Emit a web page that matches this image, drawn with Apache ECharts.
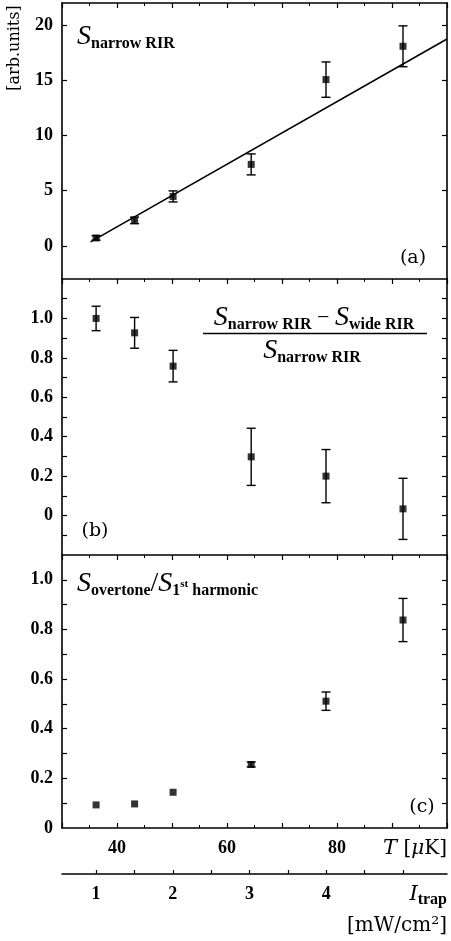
<!DOCTYPE html>
<html><head><meta charset="utf-8">
<script src="https://cdn.jsdelivr.net/npm/echarts@6/dist/echarts.min.js"></script>
<style>html,body{margin:0;padding:0;background:#fff}#c{width:451px;height:941px}</style>
</head><body><div id="c"></div>
<script>
// ---- data ----
const T = [36.2, 43.2, 50.2, 64.4, 78.0, 92.0];          // temperature [uK]
const I = [1, 1.5, 2, 3, 4, 5];                           // trap intensity [mW/cm2]
const aVal = [0.72, 2.31, 4.48, 7.38, 15.06, 18.08];
const aErr = [0.2, 0.3, 0.5, 0.95, 1.6, 1.85];
const fitT = [35.2, 100];
const fitA = [0.36, 18.74];
const bVal = [1.0, 0.927, 0.758, 0.298, 0.20, 0.034];
const bErr = [0.062, 0.078, 0.08, 0.145, 0.135, 0.155];
const cVal = [0.093, 0.097, 0.144, 0.256, 0.511, 0.838];
const cErr = [0, 0, 0, 0.01, 0.037, 0.087];
const aTicks = [0, 5, 10, 15, 20];
const bTicks = [-0.1, 0, 0.1, 0.2, 0.3, 0.4, 0.5, 0.6, 0.7, 0.8, 0.9, 1.0, 1.1];
const bLabels = [0, 0.2, 0.4, 0.6, 0.8, 1.0];
const cTicks = [0.1, 0.2, 0.3, 0.4, 0.5, 0.6, 0.7, 0.8, 0.9, 1.0];
const cLabels = [0, 0.2, 0.4, 0.6, 0.8, 1.0];
const tLabels = [40, 60, 80];
const iTicks = [1, 1.5, 2, 2.5, 3, 3.5, 4, 4.5, 5];
const iLabels = [1, 2, 3, 4];
// T <-> I mapping of the second axis (I = 1 at T=36.2, I = 5 at T=92.0)
const iMin = 0.556, iMax = 5.574;

const SERIF = 'Liberation Serif';
const DV = 'DejaVu Serif';
const K = '#000';
const chart = echarts.init(document.getElementById('c'), null, {renderer: 'canvas'});

const grids = [
  {left: 62, right: 4, top: 3, height: 276},
  {left: 62, right: 4, top: 279, height: 276},
  {left: 62, right: 4, top: 555, height: 273}
];

function topX(g) {
  return {type: 'value', gridIndex: g, position: 'top', min: 30, max: 100, interval: 10,
    axisLine: {show: true, onZero: false, lineStyle: {color: K, width: 1.6}},
    axisTick: {show: true, inside: true, length: 5, lineStyle: {color: K, width: 1.2}},
    minorTick: {show: true, splitNumber: 2, length: 3, lineStyle: {color: K, width: 1}},
    axisLabel: {show: false}, splitLine: {show: false}};
}
function yAx(g, pos, min, max, ticks, labels, fmt) {
  return {type: 'value', gridIndex: g, position: pos, min: min, max: max,
    axisLine: {show: true, onZero: false, lineStyle: {color: K, width: 1.6}},
    axisTick: {show: true, inside: true, length: 5, customValues: ticks, lineStyle: {color: K, width: 1.2}},
    axisLabel: pos === 'left' ? {show: true, customValues: labels, margin: 9, color: K,
      fontFamily: SERIF, fontWeight: 'bold', fontSize: 18, formatter: fmt} : {show: false},
    splitLine: {show: false}};
}
const fmt1 = v => (Math.abs(v) < 1e-9 ? '0' : v.toFixed(1));

function errSeries(xi, yi, vals, errs) {
  return {type: 'custom', xAxisIndex: xi, yAxisIndex: yi, z: 2, silent: true,
    data: T.map((t, i) => [t, vals[i] - errs[i], vals[i] + errs[i]]),
    renderItem(params, api) {
      const lo = api.coord([api.value(0), api.value(1)]);
      const hi = api.coord([api.value(0), api.value(2)]);
      if (Math.abs(hi[1] - lo[1]) < 1) return null;
      const w = 4.5, st = {stroke: K, lineWidth: 1.4};
      return {type: 'group', children: [
        {type: 'line', shape: {x1: lo[0], y1: lo[1], x2: hi[0], y2: hi[1]}, style: st},
        {type: 'line', shape: {x1: lo[0] - w, y1: lo[1], x2: lo[0] + w, y2: lo[1]}, style: st},
        {type: 'line', shape: {x1: hi[0] - w, y1: hi[1], x2: hi[0] + w, y2: hi[1]}, style: st}
      ]};
    }};
}
function pts(xi, yi, vals) {
  return {type: 'scatter', xAxisIndex: xi, yAxisIndex: yi, symbol: 'rect', symbolSize: 7, z: 3,
    itemStyle: {color: K}, data: T.map((t, i) => [t, vals[i]])};
}

const sub = {fontFamily: SERIF, fontSize: 16, fontWeight: 'bold', verticalAlign: 'bottom', lineHeight: 17};
const bigS = {fontFamily: SERIF, fontSize: 28, fontStyle: 'italic', lineHeight: 30, verticalAlign: 'middle'};

function txt(x, y, text, style) {
  return {type: 'text', x: x, y: y, silent: true,
    style: Object.assign({text: text, fill: K, fontFamily: SERIF}, style)};
}

const option = {
  animation: false,
  backgroundColor: '#fff',
  grid: grids,
  xAxis: [
    topX(0), topX(1), topX(2),
    {type: 'value', gridIndex: 2, position: 'bottom', min: 30, max: 100, interval: 10,
      axisLine: {show: true, onZero: false, lineStyle: {color: K, width: 1.6}},
      axisTick: {show: true, inside: true, length: 5, lineStyle: {color: K, width: 1.2}},
      minorTick: {show: true, splitNumber: 2, length: 3, lineStyle: {color: K, width: 1}},
      axisLabel: {show: true, margin: 11, color: K, fontFamily: SERIF, fontWeight: 'bold', fontSize: 18,
        formatter: v => (tLabels.indexOf(v) >= 0 ? String(v) : '')},
      splitLine: {show: false}},
    {type: 'value', gridIndex: 2, position: 'bottom', offset: 46, min: iMin, max: iMax,
      axisLine: {show: true, onZero: false, lineStyle: {color: K, width: 1.6}},
      axisTick: {show: true, inside: true, length: 4, customValues: iTicks, lineStyle: {color: K, width: 1.2}},
      axisLabel: {show: true, customValues: iLabels, margin: 11, color: K, fontFamily: SERIF,
        fontWeight: 'bold', fontSize: 18},
      splitLine: {show: false}}
  ],
  yAxis: [
    yAx(0, 'left', -3, 22, aTicks, aTicks, v => String(v)), yAx(0, 'right', -3, 22, aTicks, aTicks),
    yAx(1, 'left', -0.2, 1.2, bTicks, bLabels, fmt1), yAx(1, 'right', -0.2, 1.2, bTicks, bLabels),
    yAx(2, 'left', 0, 1.1, cTicks, cLabels, fmt1), yAx(2, 'right', 0, 1.1, cTicks, cLabels)
  ],
  series: [
    {type: 'line', xAxisIndex: 0, yAxisIndex: 0, showSymbol: false, silent: true, z: 1,
      lineStyle: {color: K, width: 1.6}, data: fitT.map((t, i) => [t, fitA[i]])},
    errSeries(0, 0, aVal, aErr), pts(0, 0, aVal),
    errSeries(1, 2, bVal, bErr), pts(1, 2, bVal),
    errSeries(3, 4, cVal, cErr), pts(3, 4, cVal),
    // invisible helper so the I axis is bound to data
    {type: 'scatter', xAxisIndex: 4, yAxisIndex: 4, symbolSize: 0, silent: true,
      data: I.map(v => [v, 0]), itemStyle: {opacity: 0}}
  ],
  graphic: [
    txt(15, 48, '[arb.units]', {fontFamily: DV, fontSize: 16, align: 'center', verticalAlign: 'middle'}),
    // panel a title
    txt(77, 37, '{S|S}{s|narrow RIR}', {verticalAlign: 'middle', rich: {S: bigS, s: sub}}),
    txt(413, 258, '(a)', {fontFamily: DV, fontSize: 19, align: 'center', verticalAlign: 'middle'}),
    // panel b fraction
    txt(314, 318, '{S|S}{s|narrow RIR}{m| − }{S|S}{s|wide RIR}',
      {align: 'center', verticalAlign: 'middle',
       rich: {S: bigS, s: sub, m: {fontFamily: SERIF, fontSize: 22, verticalAlign: 'middle', lineHeight: 30}}}),
    {type: 'line', silent: true, shape: {x1: 203, y1: 333.5, x2: 427, y2: 333.5}, style: {stroke: K, lineWidth: 1.4}},
    txt(312, 351, '{S|S}{s|narrow RIR}', {align: 'center', verticalAlign: 'middle', rich: {S: bigS, s: sub}}),
    txt(95, 531, '(b)', {fontFamily: DV, fontSize: 19, align: 'center', verticalAlign: 'middle'}),
    // panel c title
    txt(77, 584, '{S|S}{s|overtone}{sl|/}{S|S}{s|1}{sp|st}{s| harmonic}',
      {verticalAlign: 'middle', rich: {S: bigS, s: sub,
        sl: {fontFamily: SERIF, fontSize: 28, lineHeight: 30, verticalAlign: 'middle'},
        sp: {fontFamily: SERIF, fontSize: 11, fontWeight: 'bold', verticalAlign: 'middle'}}}),
    txt(422, 807, '(c)', {fontFamily: DV, fontSize: 19, align: 'center', verticalAlign: 'middle'}),
    // axis names
    txt(447, 849, '{t|T} [{u|μ}K]', {fontFamily: DV, fontSize: 20, align: 'right', verticalAlign: 'middle',
      rich: {t: {fontFamily: DV, fontSize: 21, fontStyle: 'italic'}, u: {fontFamily: DV, fontSize: 20, fontStyle: 'italic'}}}),
    txt(447, 895, '{I|I}{s|trap}', {align: 'right', verticalAlign: 'middle',
      rich: {I: {fontFamily: DV, fontSize: 21, fontStyle: 'italic', lineHeight: 26, verticalAlign: 'middle'},
             s: {fontFamily: SERIF, fontSize: 16, fontWeight: 'bold', lineHeight: 15, verticalAlign: 'bottom'}}}),
    txt(447, 926, '[mW/cm²]', {fontFamily: DV, fontSize: 20, align: 'right', verticalAlign: 'middle'})
  ]
};
// rotate the y-axis unit label
option.graphic[0].rotation = Math.PI / 2;
chart.setOption(option);
</script></body></html>
